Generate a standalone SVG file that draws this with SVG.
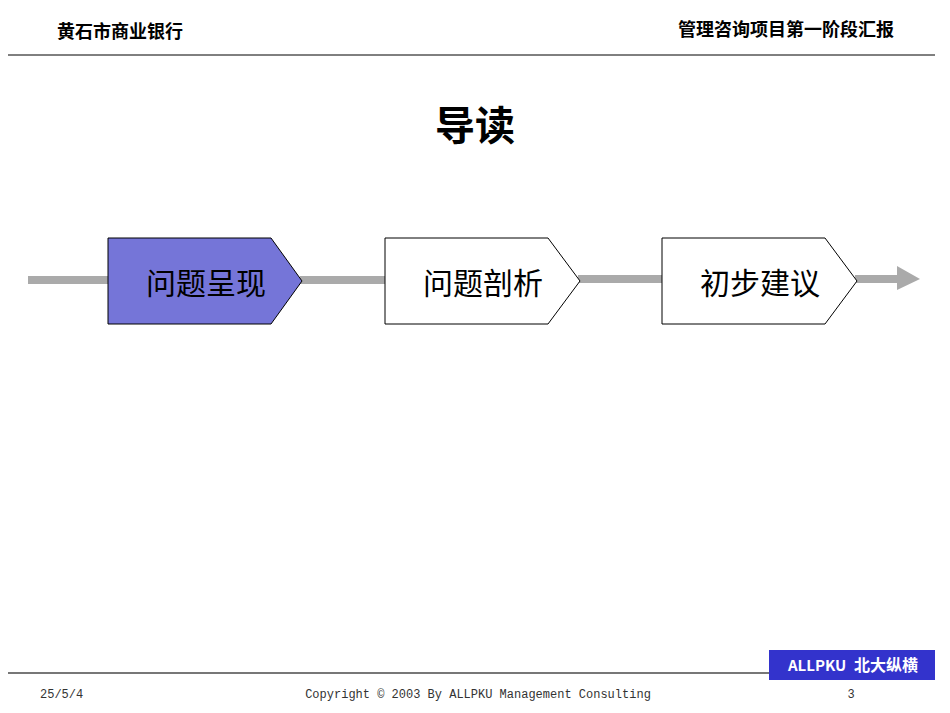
<svg xmlns="http://www.w3.org/2000/svg" width="950" height="713" viewBox="0 0 950 713">
<style>
.cjk{font-family:"Noto Sans CJK SC","Liberation Sans",sans-serif}
.hdr{font-size:18px;font-weight:bold;fill:#000}
.node{stroke:#000;stroke-width:1}
.lbl{font-size:30px;fill:#000}
.mono{font-family:"Liberation Mono","Noto Sans CJK SC",monospace;font-size:12px;fill:#333}
</style>
<rect width="950" height="713" fill="#fff"/>
<text class="cjk hdr" x="57" y="38">黄石市商业银行</text>
<text class="cjk hdr" x="894" y="36" text-anchor="end">管理咨询项目第一阶段汇报</text>
<line x1="8" y1="55" x2="935" y2="55" stroke="#000" stroke-width="1"/>
<text class="cjk" x="475" y="140" font-size="40" font-weight="bold" text-anchor="middle">导读</text>
<g id="connectors" fill="#aaa">
<rect x="28" y="276" width="82" height="8"/>
<rect x="300" y="276" width="86" height="8"/>
<rect x="578" y="275" width="86" height="8"/>
<polygon points="855,275 897,275 897,266 920,279 897,290 897,283 855,283"/>
</g>
<g id="n1"><polygon class="node" fill="#7575d8" points="108,238 271,238 302,281 271,324 108,324"/><text class="cjk lbl" x="206" y="294" text-anchor="middle">问题呈现</text></g>
<g id="n2"><polygon class="node" fill="#fff" points="385,238 548,238 580,281 548,324 385,324"/><text class="cjk lbl" x="483" y="294" text-anchor="middle">问题剖析</text></g>
<g id="n3"><polygon class="node" fill="#fff" points="662,238 825,238 857,281 825,324 662,324"/><text class="cjk lbl" x="760" y="294" text-anchor="middle">初步建议</text></g>
<line x1="8" y1="673" x2="770" y2="673" stroke="#777" stroke-width="2"/>
<rect x="769" y="650" width="166" height="30" fill="#3333cc"/>
<text class="cjk" x="788" y="671" font-size="15" font-weight="bold" fill="#fff">ALLPKU</text>
<text class="cjk" x="854" y="671" font-size="16" font-weight="bold" fill="#fff">北大纵横</text>
<text class="mono" x="40" y="698">25/5/4</text>
<text class="mono" x="478" y="698" text-anchor="middle">Copyright © 2003 By ALLPKU Management Consulting</text>
<text class="mono" x="851" y="698" text-anchor="middle">3</text>
</svg>
